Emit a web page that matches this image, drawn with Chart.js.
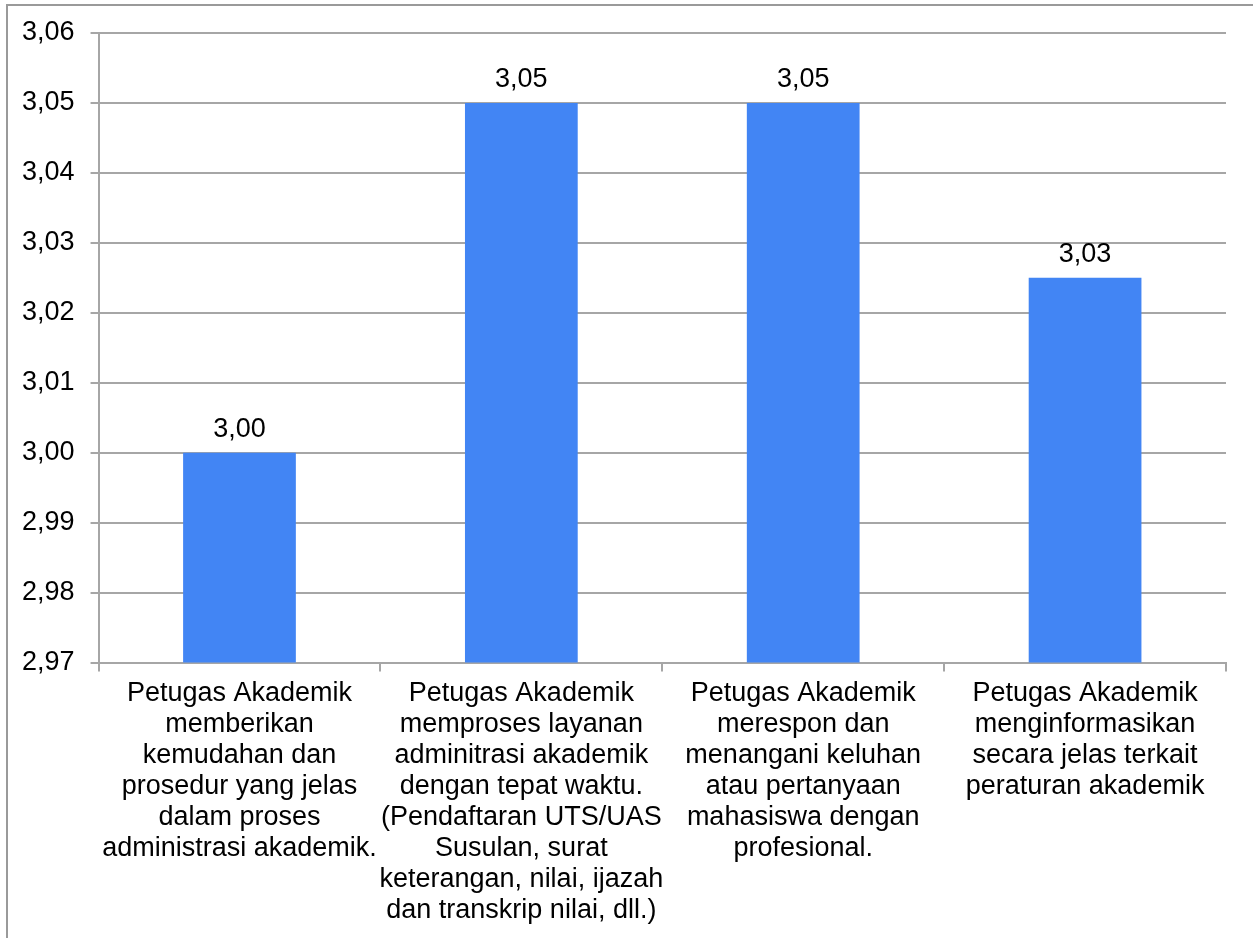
<!DOCTYPE html>
<html>
<head>
<meta charset="utf-8">
<script src="https://cdn.jsdelivr.net/npm/chart.js@4"></script>
<style>
  html, body { margin: 0; padding: 0; background: #fff; }
  #wrap { position: relative; width: 1253px; height: 938px; }
  #frame { position: absolute; left: 6px; top: 4px; right: 0; bottom: 0; border-left: 2px solid #9a9a9a; border-top: 2px solid #9a9a9a; }
</style>
</head>
<body>
<div id="wrap">
  <div id="frame"></div>
  <canvas id="skor-chart" width="1253" height="938"></canvas>
</div>
<script>
// nilai rata-rata per butir pelayanan petugas akademik
const categories = [
  ["Petugas Akademik", "memberikan", "kemudahan dan", "prosedur yang jelas", "dalam proses", "administrasi akademik."],
  ["Petugas Akademik", "memproses layanan", "adminitrasi akademik", "dengan tepat waktu.", "(Pendaftaran UTS/UAS", "Susulan, surat", "keterangan, nilai, ijazah", "dan transkrip nilai, dll.)"],
  ["Petugas Akademik", "merespon dan", "menangani keluhan", "atau pertanyaan", "mahasiswa dengan", "profesional."],
  ["Petugas Akademik", "menginformasikan", "secara jelas terkait", "peraturan akademik"]
];
const scores = [3.00, 3.05, 3.05, 3.025];
const yMin = 2.97;
const yMax = 3.06;
const yStep = 0.01;

const fmt = (v) => (v + 1e-9).toFixed(2).replace(".", ",");
const FONT = "'Liberation Sans', Arial, sans-serif";
const GRID = "#a6a6a6";

// angka di atas tiap batang
const barValues = {
  id: "barValues",
  afterDatasetsDraw(chart) {
    const ctx = chart.ctx;
    const meta = chart.getDatasetMeta(0);
    ctx.save();
    ctx.font = "27px " + FONT;
    ctx.fillStyle = "#000";
    ctx.textAlign = "center";
    ctx.textBaseline = "alphabetic";
    meta.data.forEach((bar, i) => {
      ctx.fillText(fmt(scores[i]), bar.x, bar.y - 16);
    });
    ctx.restore();
  }
};

const canvasElement = document.getElementById("skor-chart");
const config = {
  type: "bar",
  data: {
    labels: categories,
    datasets: [
      {
        data: scores,
        backgroundColor: "#4285f4",
        barPercentage: 0.4,
        categoryPercentage: 1.0,
      },
    ],
  },
  options: {
    responsive: false,
    animation: false,
    layout: { padding: { left: 6, right: 27, top: 33, bottom: 6 } },
    plugins: {
      legend: { display: false },
      tooltip: { enabled: false },
    },
    scales: {
      x: {
        offset: true,
        grid: {
          offset: true,
          drawOnChartArea: false,
          drawTicks: true,
          tickLength: 9,
          color: GRID,
          lineWidth: 2,
        },
        border: { color: GRID, width: 2 },
        ticks: {
          color: "#000",
          font: { family: FONT, size: 27, lineHeight: 1.15 },
          maxRotation: 0,
          autoSkip: false,
          padding: 6,
        },
      },
      y: {
        min: yMin,
        max: yMax,
        grid: {
          color: GRID,
          lineWidth: 2,
          drawTicks: true,
          tickLength: 8,
        },
        border: { color: GRID, width: 2 },
        ticks: {
          stepSize: yStep,
          color: "#000",
          font: { family: FONT, size: 27 },
          padding: 16,
          callback: (v) => fmt(v),
        },
      },
    },
  },
  plugins: [barValues],
};

const skorChart = new Chart(canvasElement, config);
</script>
</body>
</html>
